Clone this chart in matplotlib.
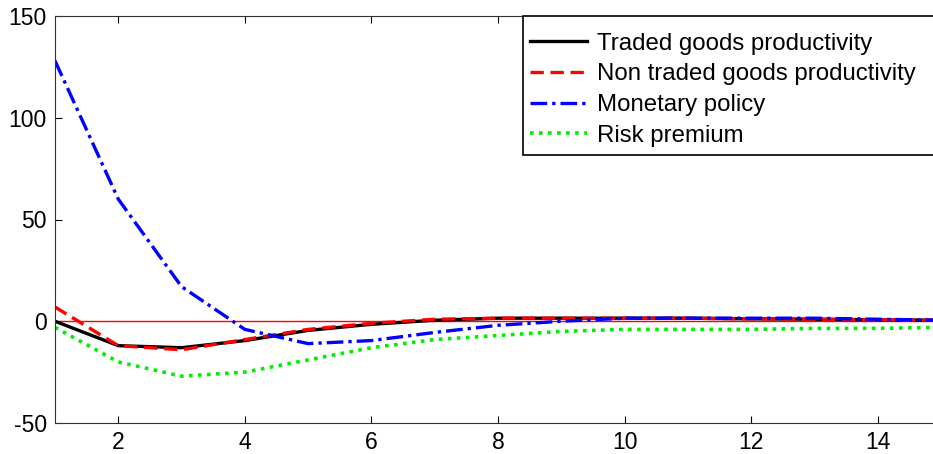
import numpy as np
import matplotlib.pyplot as plt
from matplotlib.patches import Rectangle

plt.rcParams['font.family'] = ['Liberation Sans', 'DejaVu Sans']
plt.rcParams['axes.unicode_minus'] = False

# periods and impulse responses
periods = np.arange(1, 16)
traded = [0, -12, -13, -9.5, -4.5, -1.5, 0.5, 1.5, 1.5, 1.5, 1.5, 1.2, 1, 0.7, 0.5]
non_traded = [7, -12, -14, -9, -4, -1, 1, 1.5, 1.5, 1.5, 1.5, 1.2, 1, 0.7, 0.5]
monetary = [128, 60, 17, -4, -11, -9.5, -5.5, -2, 0, 1.5, 1.5, 1.5, 1.5, 1, 0.5]
risk = [-3, -20, -27, -25, -19, -13, -9, -7, -5, -4, -4, -4, -3.5, -3.5, -3]

labels = ['Traded goods productivity', 'Non traded goods productivity',
          'Monetary policy', 'Risk premium']

fig = plt.figure(figsize=(9.33, 4.54), dpi=100)
# axes runs past the right edge of the picture (cropped original)
ax = fig.add_axes([55 / 933, 31 / 454, 886 / 933, 407 / 454])

ax.axhline(0, color='red', linewidth=1)
ax.plot(periods, traded, color='black', linestyle='-', linewidth=2.4, label=labels[0])
ax.plot(periods, non_traded, color='red', linestyle=(0, (4, 2)), linewidth=2.4, label=labels[1])
ax.plot(periods, monetary, color='blue', linestyle=(0, (5, 1.5, 1, 1.5)), linewidth=2.4, label=labels[2])
ax.plot(periods, risk, color='#00ee00', linestyle=(0, (1, 1.5)), linewidth=2.6, label=labels[3])

ax.set_xlim(1, 15)
ax.set_ylim(-50, 150)
ax.set_xticks(np.arange(2, 15, 2))
ax.set_yticks([-50, 0, 50, 100, 150])
ax.tick_params(direction='in', top=True, right=True, length=5, labelsize=16.5, pad=6)

for s in ax.spines.values():
    s.set_color('#333333')

# legend box drawn separately so the inner padding matches the original
box = Rectangle(((523 - 55) / 886, (423 - 155) / 407), 1, (155 - 16) / 407,
                transform=ax.transAxes, facecolor='white', edgecolor='black',
                linewidth=1.2, zorder=4, clip_on=False)
ax.add_patch(box)
leg = ax.legend(loc='upper left', bbox_to_anchor=((513 - 55) / 886, 1.0),
                fontsize=17.3, frameon=False, handlelength=2.4, handletextpad=0.4,
                labelspacing=0.36, borderpad=0.7, borderaxespad=0)
leg.set_zorder(5)

fig.savefig('out.png', dpi=100)
